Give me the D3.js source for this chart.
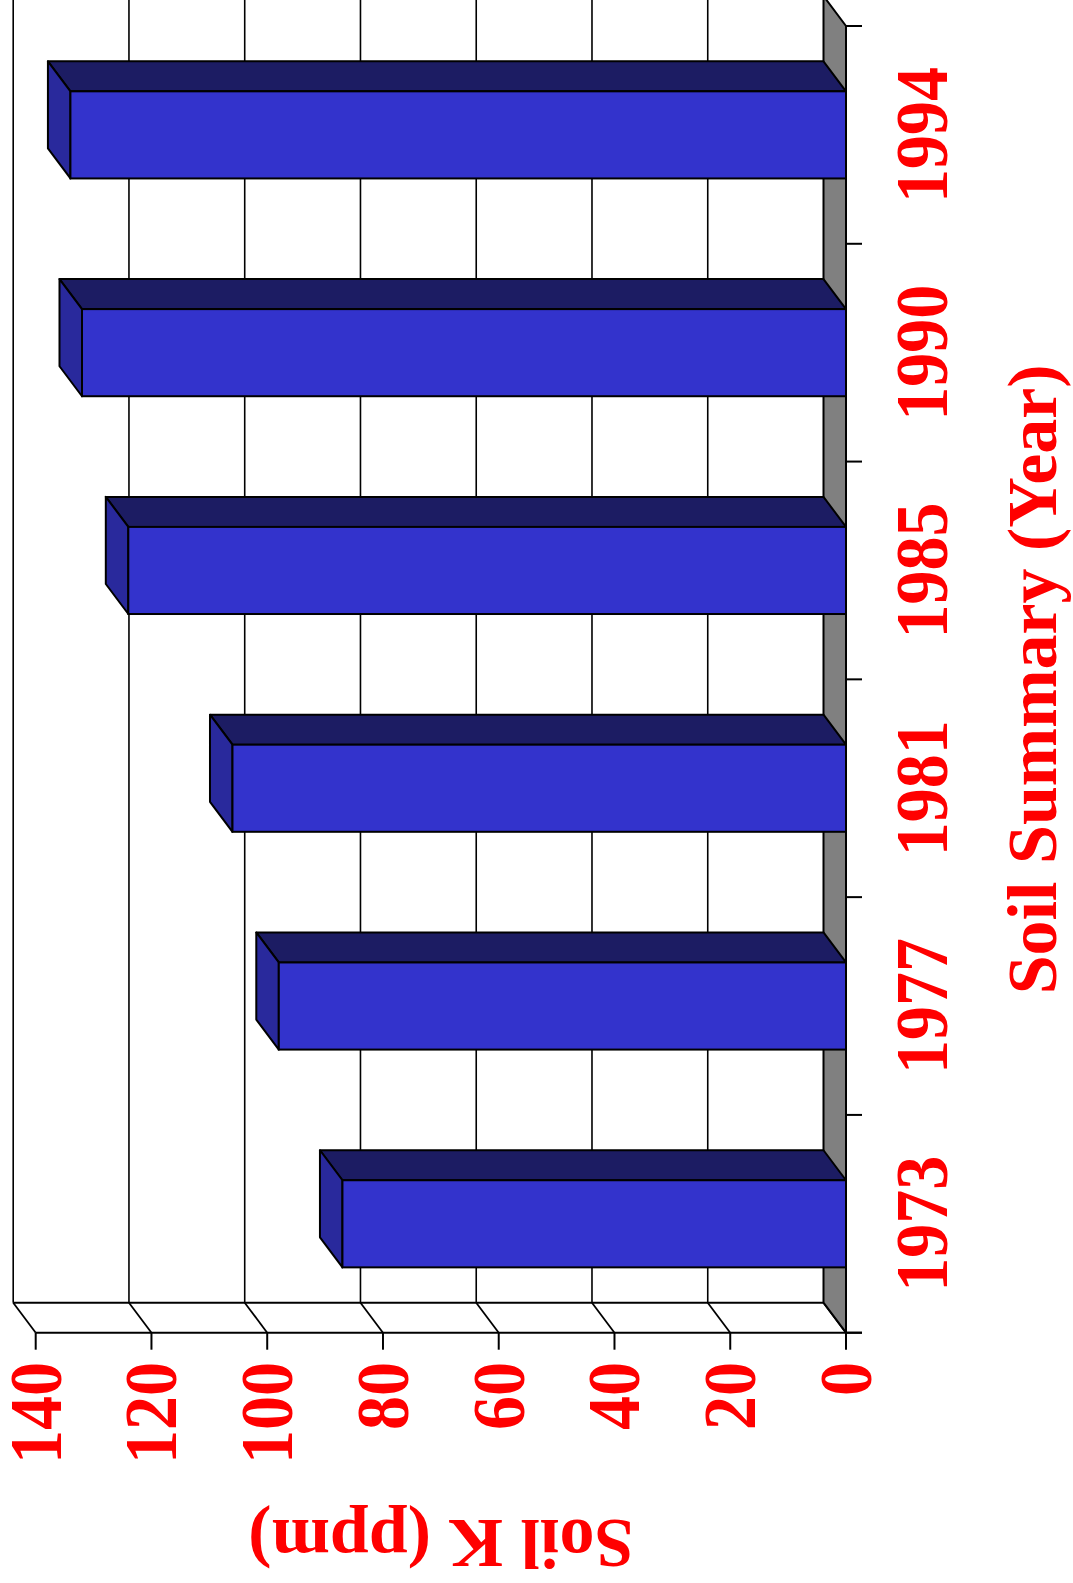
<!DOCTYPE html>
<html>
<head>
<meta charset="utf-8">
<script src="https://cdn.jsdelivr.net/npm/d3@7"></script>
<style>
    body { margin: 0; background: #ffffff; }
    .lbl { font-family: "Liberation Serif", "Times New Roman", serif; font-weight: bold; fill: #ff0000; }
</style>
</head>
<body>
<div id="chart"></div>
<script>
// data
var years = ["1973", "1977", "1981", "1985", "1990", "1994"];
var soilK = [87, 98, 106, 124, 132, 134];
var valueTicks = [0, 20, 40, 60, 80, 100, 120, 140];

var width = 1073;
var height = 1583;

// 3d depth of the walls and bars
var depthX = -22.5;
var depthY = -30;

var svg = d3.select("#chart").append("svg")
    .attr("width", width)
    .attr("height", height);

svg.append("rect")
    .attr("width", width)
    .attr("height", height)
    .attr("fill", "#ffffff");

// value axis runs right to left, categories top to bottom (rotated chart)
var xScale = d3.scaleLinear()
    .domain([0, 140])
    .range([846, 35.7]);

var yScale = d3.scaleBand()
    .domain(years.slice().reverse())
    .range([26, 1332.7])
    .paddingInner(0.6)
    .paddingOuter(0.3);

var floorY = 1332.7;
var step = yScale.step();

// back wall grid lines
svg.selectAll(".grid")
    .data(valueTicks.filter(d => d > 0))
    .enter().append("line")
    .attr("class", "grid")
    .attr("x1", d => xScale(d) + depthX)
    .attr("x2", d => xScale(d) + depthX)
    .attr("y1", 0)
    .attr("y2", floorY + depthY)
    .attr("stroke", "#000")
    .attr("stroke-width", 1.6);

// bottom edge of back wall
svg.append("line")
    .attr("x1", xScale(140) + depthX)
    .attr("x2", xScale(0) + depthX)
    .attr("y1", floorY + depthY)
    .attr("y2", floorY + depthY)
    .attr("stroke", "#000")
    .attr("stroke-width", 2);

// diagonals on the floor strip
svg.selectAll(".diag")
    .data(valueTicks)
    .enter().append("line")
    .attr("class", "diag")
    .attr("x1", d => xScale(d) + depthX)
    .attr("y1", floorY + depthY)
    .attr("x2", d => xScale(d))
    .attr("y2", floorY)
    .attr("stroke", "#000")
    .attr("stroke-width", 1.8);

// grey side wall at zero
var x0 = xScale(0);
svg.append("polygon")
    .attr("points", [
        [x0 + depthX, yScale.range()[0] + depthY],
        [x0, yScale.range()[0]],
        [x0, floorY],
        [x0 + depthX, floorY + depthY]
    ].map(p => p.join(",")).join(" "))
    .attr("fill", "#808080")
    .attr("stroke", "#000")
    .attr("stroke-width", 2);

// bars
var barsG = svg.selectAll(".barG")
    .data(years.map((y, i) => ({year: y, value: soilK[i]})))
    .enter().append("g")
    .attr("class", "barG");

barsG.append("polygon")
    .attr("points", function(d) {
        var xv = xScale(d.value), top = yScale(d.year);
        return [[xv, top], [xv + depthX, top + depthY], [x0 + depthX, top + depthY], [x0, top]]
            .map(p => p.join(",")).join(" ");
    })
    .attr("fill", "#1c1c63")
    .attr("stroke", "#000")
    .attr("stroke-width", 2)
    .attr("stroke-linejoin", "round");

barsG.append("polygon")
    .attr("points", function(d) {
        var xv = xScale(d.value), top = yScale(d.year), bot = top + yScale.bandwidth();
        return [[xv, top], [xv + depthX, top + depthY], [xv + depthX, bot + depthY], [xv, bot]]
            .map(p => p.join(",")).join(" ");
    })
    .attr("fill", "#29299c")
    .attr("stroke", "#000")
    .attr("stroke-width", 2)
    .attr("stroke-linejoin", "round");

barsG.append("rect")
    .attr("x", d => xScale(d.value))
    .attr("y", d => yScale(d.year))
    .attr("width", d => x0 - xScale(d.value))
    .attr("height", yScale.bandwidth())
    .attr("fill", "#3333cc")
    .attr("stroke", "#000")
    .attr("stroke-width", 2);

// front value axis
svg.append("line")
    .attr("x1", xScale(140))
    .attr("x2", x0 + 16)
    .attr("y1", floorY)
    .attr("y2", floorY)
    .attr("stroke", "#000")
    .attr("stroke-width", 2);

svg.selectAll(".xtick")
    .data(valueTicks)
    .enter().append("line")
    .attr("x1", d => xScale(d))
    .attr("x2", d => xScale(d))
    .attr("y1", floorY)
    .attr("y2", floorY + 17)
    .attr("stroke", "#000")
    .attr("stroke-width", 2);

// category ticks
svg.selectAll(".ytick")
    .data(d3.range(years.length + 1))
    .enter().append("line")
    .attr("x1", x0)
    .attr("x2", x0 + 16)
    .attr("y1", d => yScale.range()[0] + d * step)
    .attr("y2", d => yScale.range()[0] + d * step)
    .attr("stroke", "#000")
    .attr("stroke-width", 2);

// value labels, rotated (digits a bit taller like the original)
svg.selectAll(".xlabel")
    .data(valueTicks)
    .enter().append("text")
    .attr("class", "lbl")
    .attr("font-size", 68)
    .attr("text-anchor", "end")
    .attr("transform", d => `translate(${xScale(d) + 25}, 1362) rotate(-90) scale(1, 1.09)`)
    .text(d => d);

// year labels
svg.selectAll(".ylabel")
    .data(years)
    .enter().append("text")
    .attr("class", "lbl")
    .attr("font-size", 68)
    .attr("text-anchor", "middle")
    .attr("transform", d => `translate(947, ${yScale(d) + yScale.bandwidth() / 2}) rotate(-90) scale(1, 1.09)`)
    .text(d => d);

// axis titles
svg.append("text")
    .attr("class", "lbl")
    .attr("font-size", 70)
    .attr("text-anchor", "middle")
    .attr("transform", `translate(1056, ${(yScale.range()[0] + floorY) / 2}) rotate(-90)`)
    .text("Soil Summary (Year)");

svg.append("text")
    .attr("class", "lbl")
    .attr("font-size", 70)
    .attr("text-anchor", "middle")
    .attr("transform", `translate(${(xScale(0) + xScale(140)) / 2}, 1520) rotate(180)`)
    .text("Soil K (ppm)");
</script>
</body>
</html>
